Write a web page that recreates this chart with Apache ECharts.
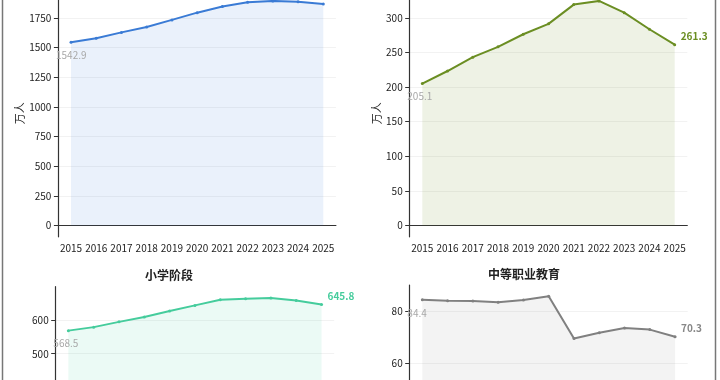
<!DOCTYPE html>
<html><head><meta charset="utf-8">
<script src="https://cdn.jsdelivr.net/npm/echarts@6/dist/echarts.min.js"></script>
<style>html,body{margin:0;padding:0;background:#fff}#c{width:720px;height:380px}</style>
</head><body><div id="c"></div>
<script>
const years = ['2015','2016','2017','2018','2019','2020','2021','2022','2023','2024','2025'];
const totalTeachers = [1542.9, 1578.2, 1626.9, 1672.9, 1732.0, 1793.0, 1844.4, 1880.4, 1891.8, 1885.0, 1866.0];
const preschool = [205.1, 223.2, 243.2, 258.1, 276.3, 291.3, 319.1, 324.4, 307.4, 283.5, 261.3];
const primary = [568.5, 578.9, 594.5, 609.2, 626.9, 643.4, 660.1, 662.9, 665.6, 658.0, 645.8];
const vocational = [84.4, 84.0, 83.9, 83.4, 84.3, 85.7, 69.6, 71.8, 73.6, 73.0, 70.3];
const ticks1 = [0, 250, 500, 750, 1000, 1250, 1500, 1750];
const ticks2 = [0, 50, 100, 150, 200, 250, 300];
const ticks3 = [0, 100, 200, 300, 400, 500, 600];
const ticks4 = [0, 20, 40, 60, 80];
const titles = ['小学阶段', '中等职业教育'];
const unit = '万人';

const FONT = '"Noto Sans CJK SC", "Noto Sans", sans-serif';
const chart = echarts.init(document.getElementById('c'), null, {renderer: 'canvas'});

const panels = [
  {data: totalTeachers, ticks: ticks1, color: '#3a7bd5', fill: 'rgba(58,123,213,0.15)', endColor: '#3a7bd5', grid: {left: 58.4, width: 277.5, top: -10.3, height: 247.1}, nameGap: 32},
  {data: preschool, ticks: ticks2, color: '#6b8e23', fill: 'rgba(107,142,35,0.17)', endColor: '#6b8e23', grid: {left: 409.7, width: 277.6, top: -10.3, height: 247.1}, nameGap: 25},
  {data: primary, ticks: ticks3, color: '#45cc9c', fill: 'rgba(69,204,156,0.15)', endColor: '#45cc9c', grid: {left: 55.7, width: 278.5, top: 286.7, height: 246.7}, nameGap: 25},
  {data: vocational, ticks: ticks4, color: '#808080', fill: 'rgba(128,128,128,0.14)', endColor: '#888888', grid: {left: 409.7, width: 278, top: 285.1, height: 247}, nameGap: 20}
];

function yRange(arr) {
  const mx = Math.max(...arr);
  return {min: -0.05 * mx, max: mx * 1.05};
}

const option = {
  animation: false,
  backgroundColor: '#ffffff',
  textStyle: {fontFamily: FONT},
  title: [
    {text: titles[0], left: 164, top: 264, textAlign: 'center', textStyle: {fontSize: 12, fontWeight: 'bold', color: '#222', fontFamily: FONT}},
    {text: titles[1], left: 519, top: 263, textAlign: 'center', textStyle: {fontSize: 12, fontWeight: 'bold', color: '#222', fontFamily: FONT}}
  ],
  grid: panels.map(p => Object.assign({outerBoundsMode: 'none', containLabel: false}, p.grid)),
  xAxis: panels.map((p, i) => ({
    gridIndex: i, type: 'category', data: years, boundaryGap: true,
    axisLine: {lineStyle: {color: '#333', width: 1.2}},
    axisTick: {alignWithLabel: true, length: 4.5, lineStyle: {color: '#333', width: 1}},
    axisLabel: {color: '#222', fontSize: 10, margin: 6, fontFamily: FONT, interval: 0},
    splitLine: {show: false}
  })),
  yAxis: panels.map((p, i) => {
    const r = yRange(p.data);
    return {
      gridIndex: i, type: 'value', min: r.min, max: r.max,
      name: unit, nameLocation: 'middle', nameGap: p.nameGap, nameRotate: 90,
      nameTextStyle: {color: '#222', fontSize: 11, fontFamily: FONT},
      axisLine: {show: true, lineStyle: {color: '#333', width: 1.2}},
      axisTick: {show: true, length: 4.5, customValues: p.ticks, lineStyle: {color: '#333', width: 1}},
      axisLabel: {color: '#222', fontSize: 10, margin: 7, customValues: p.ticks, fontFamily: FONT, formatter: v => String(v)},
      splitLine: {show: true, lineStyle: {color: '#f2f2f2', width: 1}}
    };
  }),
  series: panels.map((p, i) => ({
    type: 'line', xAxisIndex: i, yAxisIndex: i,
    data: p.data.map((v, k) => {
      if (k === 0) return {value: v, label: {show: true, position: 'inside', align: 'left', verticalAlign: 'middle', offset: [-15, 13], color: '#a8a8a8', fontSize: 10, formatter: String(v.toFixed(1))}};
      if (k === p.data.length - 1) return {value: v, label: {show: true, position: 'inside', align: 'left', verticalAlign: 'middle', offset: [6, -8.6], color: p.endColor, fontWeight: 'bold', fontSize: 10, formatter: String(v.toFixed(1))}};
      return v;
    }),
    symbol: 'circle', symbolSize: 3, showSymbol: true,
    lineStyle: {color: p.color, width: 2},
    itemStyle: {color: p.color},
    areaStyle: {color: p.fill, origin: 0},
    label: {show: false, fontFamily: FONT},
    z: 3
  })),
  graphic: [
    {type: 'line', shape: {x1: 2.5, y1: 0, x2: 2.5, y2: 380}, style: {stroke: '#777', lineWidth: 1.5}},
    {type: 'line', shape: {x1: 715.5, y1: 0, x2: 715.5, y2: 380}, style: {stroke: '#777', lineWidth: 1.5}}
  ]
};
chart.setOption(option);
</script>
</body></html>
